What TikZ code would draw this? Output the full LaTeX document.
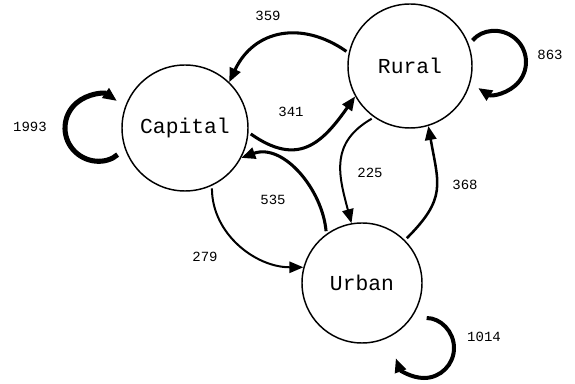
\documentclass[tikz,border=0pt]{standalone}
\usepackage{fontspec}
\setmonofont{Liberation Mono}
\usetikzlibrary{arrows.meta,calc}
\begin{document}
\begin{tikzpicture}[x=0.75pt,y=0.75pt,
  state/.style={circle,draw,line width=1.1pt,inner sep=0pt,font=\ttfamily\fontsize{16}{18}\selectfont},
  lbl/.style={font=\ttfamily\fontsize{10.5}{12}\selectfont},
  edge/.style={-{Triangle[length=10.5pt,width=8.5pt]},shorten <=2pt},
  w1/.style={line width=1.5pt},
  w2/.style={line width=1.9pt},
  w3/.style={line width=2.3pt},
  w4/.style={line width=3pt},
  w5/.style={line width=3.8pt}]
\useasboundingbox (0,0) rectangle (575,-384);
\node[state,minimum size=94.5pt] (Capital) at (185,-128) {Capital};
\node[state,minimum size=93pt] (Rural) at (410,-66) {Rural};
\node[state,minimum size=90pt] (Urban) at (362,-283) {Urban};
% self loops
\draw[edge,w5] (Capital.center) ++(-87,0) ++(-49:33) arc[start angle=-49,end angle=-305,radius=33];
\draw[edge,w4] (Rural.center) ++(85,4) ++(141:31) arc[start angle=141,end angle=-123,radius=31];
\draw[edge,w4] (Urban.center) ++(62,-65) ++(90:30) arc[start angle=90,end angle=-160,radius=30];
% edges
\draw[edge,w3] (Rural.168) to[out=145,in=65,looseness=1.2] (Capital.46);
\draw[edge,w3] (Capital.-4) to[out=-35,in=235,looseness=1.35] (Rural.209);
\draw[edge,w1] (Rural.235) to[out=210,in=105,looseness=1.2] (Urban.100);
\draw[edge,w2] (Urban.45) to[out=45,in=-80,looseness=1.3] (Rural.-73);
\draw[edge,w3] (Urban.126) to[out=95,in=20] (Capital.-28);
\draw[edge,w1] (Capital.-65) to[out=-90,in=180] (Urban.165);
% labels
\node[lbl] (l1993) at (30,-127) {1993};
\node[lbl] (l863) at (550,-55) {863};
\node[lbl] (l1014) at (484,-337) {1014};
\node[lbl] (l359) at (268,-16) {359};
\node[lbl] (l341) at (291,-112) {341};
\node[lbl] (l225) at (370,-173) {225};
\node[lbl] (l368) at (465,-185) {368};
\node[lbl] (l535) at (273,-200) {535};
\node[lbl] (l279) at (205,-257) {279};
\end{tikzpicture}
\end{document}
